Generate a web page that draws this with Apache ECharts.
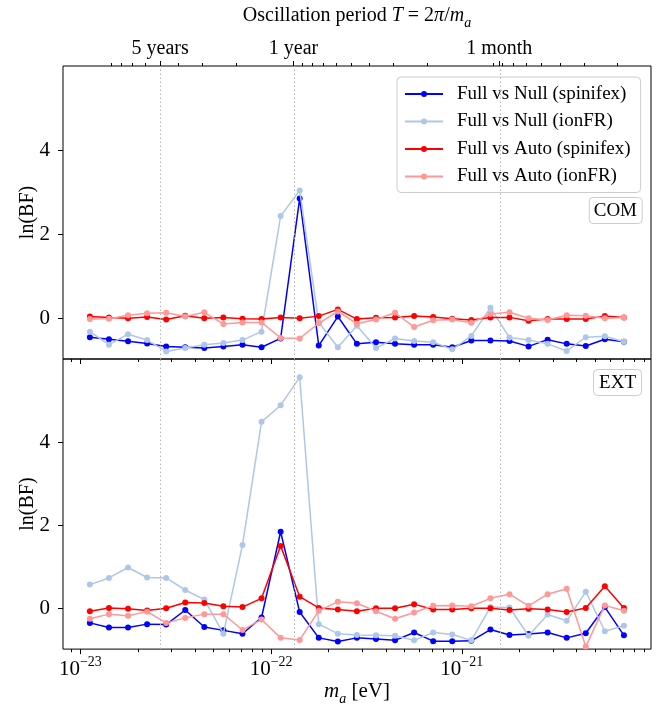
<!DOCTYPE html>
<html><head><meta charset="utf-8">
<script src="https://cdn.jsdelivr.net/npm/echarts@6/dist/echarts.min.js"></script>
<style>html,body{margin:0;padding:0;background:#fff}#c{width:657px;height:707px}</style>
</head><body><div id="c"></div>
<script>
// ---- data ----
const logMass = [-22.95,-22.85,-22.75,-22.65,-22.55,-22.45,-22.35,-22.25,-22.15,-22.05,
  -21.95,-21.85,-21.75,-21.65,-21.55,-21.45,-21.35,-21.25,-21.15,-21.05,
  -20.95,-20.85,-20.75,-20.65,-20.55,-20.45,-20.35,-20.25,-20.15];

const seriesNames = ['Full vs Null (spinifex)','Full vs Null (ionFR)','Full vs Auto (spinifex)','Full vs Auto (ionFR)'];
const seriesColors = ['#0000ff','#aec7e8','#ff0000','#ff9896'];

// COM panel
const nullSpinCOM = [-0.45,-0.50,-0.55,-0.60,-0.67,-0.69,-0.71,-0.67,-0.63,-0.69,-0.48,2.85,-0.65,0.04,-0.61,-0.57,-0.61,-0.63,-0.63,-0.69,-0.53,-0.53,-0.54,-0.67,-0.51,-0.61,-0.66,-0.50,-0.56];
const nullIonCOM  = [-0.32,-0.63,-0.38,-0.52,-0.79,-0.71,-0.63,-0.59,-0.52,-0.32,2.43,3.04,-0.10,-0.69,-0.18,-0.71,-0.48,-0.54,-0.57,-0.74,-0.42,0.25,-0.46,-0.52,-0.61,-0.78,-0.45,-0.43,-0.56];
const autoSpinCOM = [0.04,0.02,0.00,0.03,-0.03,0.06,0.00,0.02,-0.01,-0.02,0.02,0.00,0.05,0.21,-0.02,0.01,0.02,0.05,0.03,-0.01,-0.04,0.02,0.02,-0.06,-0.02,-0.02,-0.02,0.05,0.02];
const autoIonCOM  = [-0.02,-0.01,0.07,0.12,0.13,0.04,0.14,-0.14,-0.10,-0.10,-0.47,-0.48,-0.12,0.16,-0.13,-0.03,0.13,-0.21,-0.05,-0.03,-0.11,0.10,0.14,0.00,-0.04,0.07,0.06,0.00,0.02];

// EXT panel
const nullSpinEXT = [-0.34,-0.45,-0.45,-0.37,-0.38,-0.03,-0.44,-0.52,-0.60,-0.21,1.85,-0.08,-0.70,-0.79,-0.70,-0.73,-0.76,-0.57,-0.78,-0.78,-0.77,-0.50,-0.63,-0.61,-0.57,-0.70,-0.59,0.04,-0.64];
const nullIonEXT  = [0.58,0.74,0.99,0.75,0.74,0.45,0.22,-0.60,1.53,4.49,4.89,5.56,-0.37,-0.60,-0.63,-0.64,-0.65,-0.76,-0.57,-0.62,-0.76,0.04,0.03,-0.65,-0.14,-0.29,0.41,-0.54,-0.41];
const autoSpinEXT = [-0.06,0.02,0.00,-0.04,0.01,0.15,0.14,0.06,0.04,0.25,1.51,0.29,0.02,-0.02,-0.06,0.01,0.01,0.11,-0.02,-0.02,0.01,0.01,-0.03,0.00,-0.02,-0.08,0.02,0.54,0.02];
const autoIonEXT  = [-0.24,-0.13,-0.17,-0.07,-0.34,-0.22,-0.13,-0.13,-0.51,-0.26,-0.70,-0.75,-0.05,0.17,0.13,-0.06,-0.24,-0.09,0.07,0.08,0.06,0.25,0.35,0.07,0.35,0.48,-0.91,0.08,-0.05];

const panelLabels = ['COM','EXT'];

// ticks
const majorMassExp = [-23,-22,-21];
const minorSubs = [2,3,4,5,6,7,8,9];
const minorDecades = [-24,-23,-22,-21];
const yTicks = [0,2,4];
const periodLabels = ['5 years','1 year','1 month'];
const periodYears = [5, 1, 1/12];
const minorPeriodYears = [9,8,7,6,4,3,2,0.9,0.8,0.7,0.6,0.5,0.4,0.3,0.2,0.09,0.08,0.07,0.06,0.05,0.04,0.03,0.02];

// ---- layout / conversions ----
const xMin = -23.091, xMax = -20.008;
const yMin = -0.97, yMax = 6.0;
const HBAR = 6.582119569e-16, YEAR_S = 365.25*86400;
const periodToLogMass = y => Math.log10(2*Math.PI*HBAR/(y*YEAR_S));
const periodPos = periodYears.map(periodToLogMass);
const minorPeriodPos = minorPeriodYears.map(periodToLogMass).filter(v => v > xMin && v < xMax);
const minorMassPos = [];
minorDecades.forEach(k => minorSubs.forEach(n => { const v = k + Math.log10(n); if (v > xMin && v < xMax) minorMassPos.push(v); }));

const F = 'Liberation Serif';
const BLACK = '#000';

function supLabel(v){ return '{n|10}{s|\u2212' + Math.abs(Math.round(v)) + '}'; }

const tickLine = {color: BLACK, width: 1};

function baseX(grid, pos){
  return {type:'value', gridIndex:grid, min:xMin, max:xMax, position:pos,
    splitLine:{show:false}, axisLine:{show:false, onZero:false}};
}

const xAxes = [
  Object.assign(baseX(0,'bottom'), {axisTick:{show:true, length:5, customValues:majorMassExp, lineStyle:tickLine}, axisLabel:{show:false}}),
  Object.assign(baseX(1,'bottom'), {axisTick:{show:true, length:5, customValues:majorMassExp, lineStyle:tickLine},
    axisLabel:{show:true, customValues:majorMassExp, margin:6, formatter:supLabel, color:BLACK,
      rich:{n:{fontFamily:F, fontSize:21, lineHeight:25, verticalAlign:'bottom', color:BLACK},
            s:{fontFamily:F, fontSize:14, lineHeight:14, verticalAlign:'top', color:BLACK}}},
    name:'{i|m}{sub|a}{t| [eV]}', nameLocation:'middle', nameGap:30,
    nameTextStyle:{fontFamily:F, fontSize:20, color:BLACK,
      rich:{i:{fontFamily:F, fontStyle:'italic', fontSize:21, lineHeight:25, verticalAlign:'top', color:BLACK},
            sub:{fontFamily:F, fontStyle:'italic', fontSize:14, lineHeight:14, verticalAlign:'bottom', color:BLACK},
            t:{fontFamily:F, fontSize:21, lineHeight:25, verticalAlign:'top', color:BLACK}}}}),
  Object.assign(baseX(0,'bottom'), {axisTick:{show:true, length:3, customValues:minorMassPos, lineStyle:tickLine}, axisLabel:{show:false}}),
  Object.assign(baseX(1,'bottom'), {axisTick:{show:true, length:3, customValues:minorMassPos, lineStyle:tickLine}, axisLabel:{show:false}}),
  Object.assign(baseX(0,'top'), {axisTick:{show:true, length:5, customValues:periodPos, lineStyle:tickLine},
    axisLabel:{show:true, customValues:periodPos, margin:7, fontFamily:F, fontSize:20, color:BLACK,
      formatter: v => { let b=0; periodPos.forEach((p,i)=>{ if (Math.abs(p-v) < Math.abs(periodPos[b]-v)) b=i; }); return periodLabels[b]; }},
    name:'{t|Oscillation period }{i|T}{t| = 2}{i|\u03c0}{t|/}{i|m}{sub|a}', nameLocation:'middle', nameGap:36,
    nameTextStyle:{fontFamily:F, fontSize:20, color:BLACK,
      rich:{i:{fontFamily:F, fontStyle:'italic', fontSize:20, lineHeight:24, verticalAlign:'top', color:BLACK},
            sub:{fontFamily:F, fontStyle:'italic', fontSize:14, lineHeight:14, verticalAlign:'bottom', color:BLACK},
            t:{fontFamily:F, fontSize:20, lineHeight:24, verticalAlign:'top', color:BLACK}}}}),
  Object.assign(baseX(0,'top'), {axisTick:{show:true, length:3, customValues:minorPeriodPos, lineStyle:tickLine}, axisLabel:{show:false}})
];

function yAx(grid){
  return {type:'value', gridIndex:grid, min:yMin, max:yMax, splitLine:{show:false},
    axisLine:{show:false, onZero:false},
    axisTick:{show:true, length:5, customValues:yTicks, lineStyle:tickLine},
    axisLabel:{show:true, customValues:yTicks, margin:13, fontFamily:F, fontSize:21, color:BLACK},
    name:'ln(BF)', nameLocation:'middle', nameGap:25, nameMoveOverlap:false,
    nameTextStyle:{fontFamily:F, fontSize:20, color:BLACK}};
}

const panels = [
  [nullSpinCOM, nullIonCOM, autoSpinCOM, autoIonCOM],
  [nullSpinEXT, nullIonEXT, autoSpinEXT, autoIonEXT]
];

const series = [];
panels.forEach((arrs, g) => {
  series.push({type:'line', name:'_vlines'+g, xAxisIndex:g, yAxisIndex:g, data:[], z:1, silent:true,
    markLine:{silent:true, symbol:['none','none'], label:{show:false}, animation:false,
      lineStyle:{type:[1.5,2.5], color:'#b3b3b3', width:1},
      data: periodPos.map(v => ({xAxis:v}))}});
  arrs.forEach((vals, k) => {
    series.push({type:'line', name:seriesNames[k], xAxisIndex:g, yAxisIndex:g,
      data: logMass.map((x,i) => [x, vals[i]]),
      symbol:'circle', symbolSize:6, showSymbol:true, clip:true, z:2+k,
      lineStyle:{width:1.5, color:seriesColors[k]}, itemStyle:{color:seriesColors[k]},
      emphasis:{disabled:true}});
  });
});

const boxStyle = {borderColor:'#cccccc', borderWidth:1, borderRadius:4, backgroundColor:'rgba(255,255,255,0.8)'};

const option = {
  animation:false,
  backgroundColor:'#fff',
  grid:[
    {left:63, right:6, top:66, height:293, show:true, borderColor:BLACK, borderWidth:1, backgroundColor:'transparent'},
    {left:63, right:6, top:359, height:293, show:true, borderColor:BLACK, borderWidth:1, backgroundColor:'transparent'}
  ],
  xAxis:xAxes,
  yAxis:[yAx(0), yAx(1)],
  legend:Object.assign({orient:'vertical', left:397, top:77, data:seriesNames, itemWidth:38, itemHeight:7.5,
    itemGap:7.5, padding:[7,10,6,7], selectedMode:false,
    textStyle:{fontFamily:F, fontSize:19, color:BLACK, lineHeight:20, padding:[0,0,0,9]}}, boxStyle),
  title:[
    Object.assign({text:panelLabels[0], right:15, top:197, padding:[4,5,3,5],
      textStyle:{fontFamily:F, fontSize:19, fontWeight:'normal', color:BLACK, lineHeight:20}}, boxStyle),
    Object.assign({text:panelLabels[1], right:15, top:369, padding:[4,6,3,6],
      textStyle:{fontFamily:F, fontSize:19, fontWeight:'normal', color:BLACK, lineHeight:20}}, boxStyle)
  ],
  series:series
};

const chart = echarts.init(document.getElementById('c'), null, {renderer:'canvas'});
chart.setOption(option);
</script>
</body></html>
